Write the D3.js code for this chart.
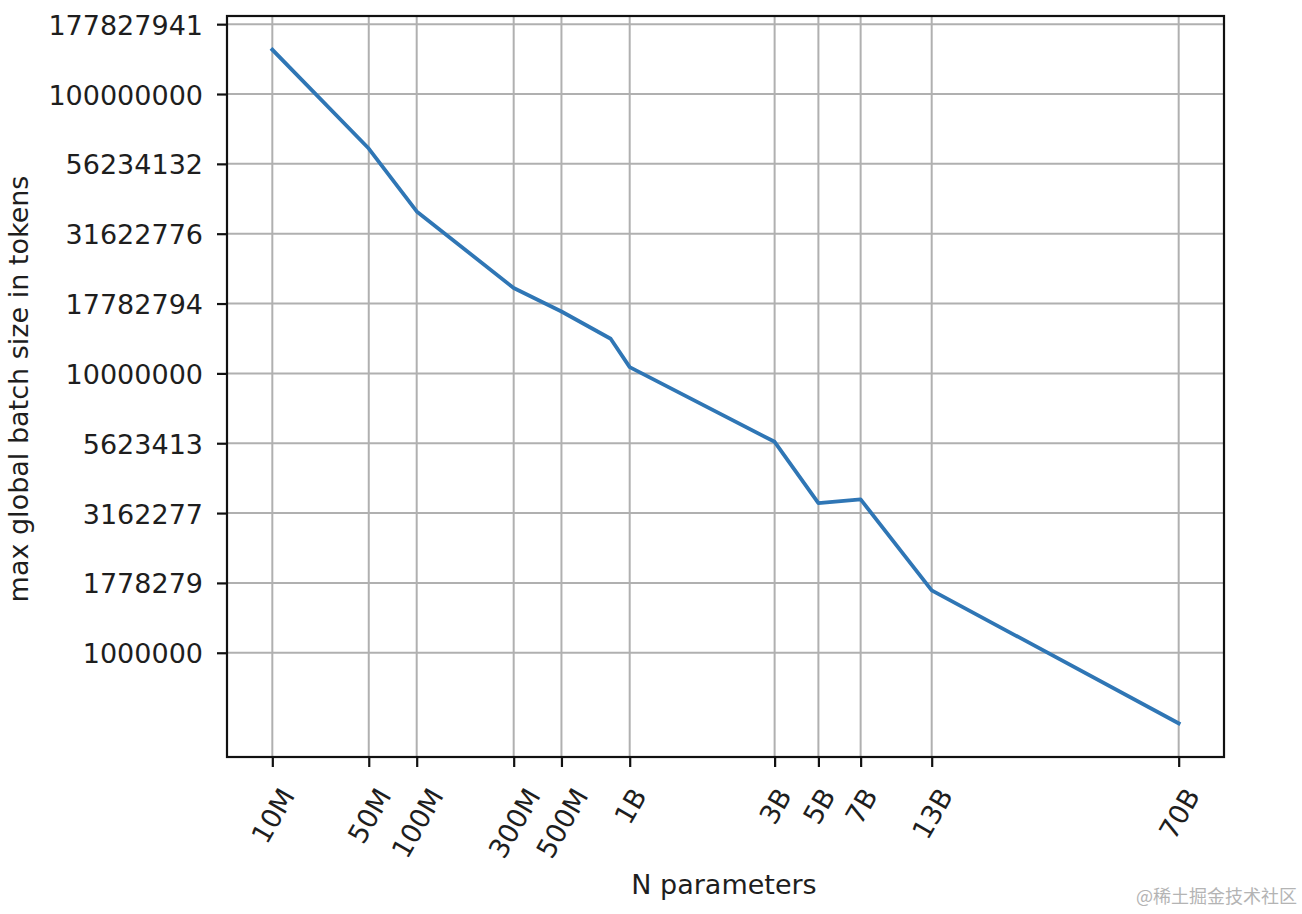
<!DOCTYPE html>
<html>
<head>
<meta charset="utf-8">
<script src="https://cdn.jsdelivr.net/npm/d3@7"></script>
<style>
  html, body { margin: 0; padding: 0; background: #fff; }
  svg { display: block; }
</style>
</head>
<body>
<svg id="chart" width="1302" height="914"></svg>
<script>
// ---- data ----
// x tick labels (model sizes) and their location along the chart's non-uniform N axis,
// expressed in axis units where 10M = 0 and 70B = 1
const tickLabels = ["10M", "50M", "100M", "300M", "500M", "1B", "3B", "5B", "7B", "13B", "70B"];
const tickCoords = [0, 0.1064, 0.1593, 0.2663, 0.3190, 0.3943, 0.5542, 0.6025, 0.6491, 0.7275, 1];

// line vertices: axis coordinate and max global batch size in tokens
const pointCoords = [0, 0.1064, 0.1593, 0.2663, 0.3190, 0.3733, 0.3943, 0.5542, 0.6025, 0.6491, 0.7275, 1];
const batchTokens = [1.441e8, 6.38e7, 3.80e7, 2.02e7, 1.665e7, 1.330e7, 1.053e7, 5.69e6, 3.43e6, 3.54e6, 1.673e6, 5.59e5];

// y ticks (every quarter decade) and their printed labels
const yTickValues = [1e6, 1778279.41, 3162277.66, 5623413.25, 1e7, 17782794.1, 31622776.6, 56234132.5, 1e8, 177827941];
const yTickLabels = ["1000000", "1778279", "3162277", "5623413", "10000000", "17782794", "31622776", "56234132", "100000000", "177827941"];

const xAxisTitle = "N parameters";
const yAxisTitle = "max global batch size in tokens";
const watermark = "@稀土掘金技术社区";

// ---- layout ----
const W = 1302, H = 914;
const plot = { left: 227, right: 1224, top: 16, bottom: 757 };
const fontSize = 27;
const font = "'DejaVu Sans', sans-serif";
const lineColor = "#2f76b5";
const gridColor = "#b0b0b0";
const textColor = "#1e1e1e";

const svg = d3.select("#chart");
svg.append("rect").attr("width", W).attr("height", H).attr("fill", "#fff");

// scales with 5% margins like matplotlib
const xExt = d3.extent(pointCoords);
const xPad = (xExt[1] - xExt[0]) * 0.05;
const x = d3.scaleLinear().domain([xExt[0] - xPad, xExt[1] + xPad]).range([plot.left, plot.right]);

const yExt = d3.extent(batchTokens).map(Math.log10);
const yPad = (yExt[1] - yExt[0]) * 0.05;
const y = d3.scaleLog().domain([Math.pow(10, yExt[0] - yPad), Math.pow(10, yExt[1] + yPad)]).range([plot.bottom, plot.top]);

// grid
const grid = svg.append("g");
grid.selectAll("line.v").data(tickCoords).join("line")
  .attr("x1", d => x(d)).attr("x2", d => x(d))
  .attr("y1", plot.top).attr("y2", plot.bottom)
  .attr("stroke", gridColor).attr("stroke-width", 2);
grid.selectAll("line.h").data(yTickValues).join("line")
  .attr("class", "h")
  .attr("x1", plot.left).attr("x2", plot.right)
  .attr("y1", d => y(d)).attr("y2", d => y(d))
  .attr("stroke", gridColor).attr("stroke-width", 2);

// line
const pts = pointCoords.map((c, i) => [c, batchTokens[i]]);
svg.append("path")
  .datum(pts)
  .attr("fill", "none")
  .attr("stroke", lineColor)
  .attr("stroke-width", 3.8)
  .attr("stroke-linejoin", "round")
  .attr("stroke-linecap", "square")
  .attr("d", d3.line().x(d => x(d[0])).y(d => y(d[1])));

// frame
svg.append("rect")
  .attr("x", plot.left).attr("y", plot.top)
  .attr("width", plot.right - plot.left).attr("height", plot.bottom - plot.top)
  .attr("fill", "none").attr("stroke", "#111").attr("stroke-width", 2.2);

// y axis
const yAxis = svg.append("g")
  .attr("transform", `translate(${plot.left},0)`)
  .call(d3.axisLeft(y).tickValues(yTickValues)
    .tickFormat((d, i) => yTickLabels[i]).tickSize(10).tickPadding(14));
yAxis.select(".domain").remove();
yAxis.selectAll(".tick line").attr("stroke", "#111").attr("stroke-width", 2.2);
yAxis.selectAll(".tick text")
  .attr("font-family", font).attr("font-size", fontSize)
  .attr("fill", textColor).attr("dy", "0.37em");

// x axis
const xAxis = svg.append("g")
  .attr("transform", `translate(0,${plot.bottom})`)
  .call(d3.axisBottom(x).tickValues(tickCoords)
    .tickFormat((d, i) => tickLabels[i]).tickSize(10));
xAxis.select(".domain").remove();
xAxis.selectAll(".tick line").attr("stroke", "#111").attr("stroke-width", 2.2);
const ang = 60 * Math.PI / 180;
xAxis.selectAll(".tick text")
  .attr("font-family", font).attr("font-size", fontSize)
  .attr("fill", textColor)
  .attr("text-anchor", "middle")
  .attr("x", 0).attr("y", 0).attr("dy", "0.36em")
  .each(function () {
    const w = this.getComputedTextLength() - 0.2 * fontSize;
    const capH = 0.73 * fontSize;
    const h = w * Math.sin(ang) + capH * Math.cos(ang);
    const top = 31; // ink top below axis
    d3.select(this).attr("transform", `translate(0,${top + h / 2}) rotate(-60)`);
  });

// axis titles
svg.append("text")
  .attr("x", 724).attr("y", 894)
  .attr("text-anchor", "middle")
  .attr("font-family", font).attr("font-size", fontSize).attr("fill", textColor)
  .text(xAxisTitle);

svg.append("text")
  .attr("transform", `translate(27.5,389) rotate(-90)`)
  .attr("text-anchor", "middle")
  .attr("font-family", font).attr("font-size", fontSize).attr("fill", textColor)
  .text(yAxisTitle);

// watermark
svg.append("text")
  .attr("x", 1297).attr("y", 903)
  .attr("text-anchor", "end")
  .attr("font-family", "'Noto Sans CJK SC', sans-serif").attr("font-size", 18)
  .attr("fill", "#b4b4b4")
  .text(watermark);
</script>
</body>
</html>
